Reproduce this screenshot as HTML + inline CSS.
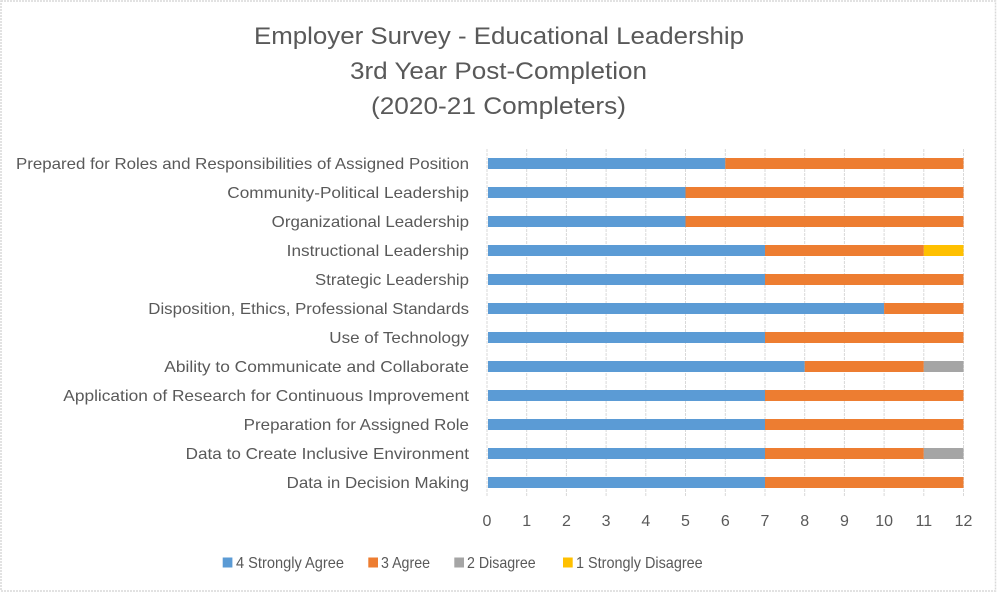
<!DOCTYPE html>
<html><head><meta charset="utf-8"><style>
html,body{margin:0;padding:0;background:#fff;}
svg{display:block;}
text{font-family:"Liberation Sans",Arial,sans-serif;fill:#595959;}
</style></head><body>
<svg width="997" height="593" viewBox="0 0 997 593" xmlns="http://www.w3.org/2000/svg">
<rect x="0" y="0" width="997" height="593" fill="#fff"/>
<rect x="1" y="1" width="994.5" height="590" fill="none" stroke="#d9d9d9" stroke-width="1.5" stroke-dasharray="2,1"/>
<!-- title -->
<text x="254" y="44" font-size="24" textLength="490" lengthAdjust="spacingAndGlyphs">Employer Survey - Educational Leadership</text>
<text x="350" y="79" font-size="24" textLength="297" lengthAdjust="spacingAndGlyphs">3rd Year Post-Completion</text>
<text x="371" y="114" font-size="24" textLength="255" lengthAdjust="spacingAndGlyphs">(2020-21 Completers)</text>
<!-- gridlines -->
<g stroke="#d9d9d9" stroke-width="1" stroke-dasharray="3,1">
<line x1="487" y1="149" x2="487" y2="497"/>
<line x1="526.7" y1="149" x2="526.7" y2="497"/>
<line x1="566.4" y1="149" x2="566.4" y2="497"/>
<line x1="606.1" y1="149" x2="606.1" y2="497"/>
<line x1="645.8" y1="149" x2="645.8" y2="497"/>
<line x1="685.5" y1="149" x2="685.5" y2="497"/>
<line x1="725.3" y1="149" x2="725.3" y2="497"/>
<line x1="765" y1="149" x2="765" y2="497"/>
<line x1="804.7" y1="149" x2="804.7" y2="497"/>
<line x1="844.4" y1="149" x2="844.4" y2="497"/>
<line x1="884.1" y1="149" x2="884.1" y2="497"/>
<line x1="923.8" y1="149" x2="923.8" y2="497"/>
<line x1="963.5" y1="149" x2="963.5" y2="497"/>
</g>
<!-- bars -->
<g>
<rect x="488" y="158" width="237.3" height="11" fill="#5b9bd5"/><rect x="725.3" y="158" width="238.2" height="11" fill="#ed7d31"/>
<rect x="488" y="187" width="197.5" height="11" fill="#5b9bd5"/><rect x="685.5" y="187" width="278" height="11" fill="#ed7d31"/>
<rect x="488" y="216" width="197.5" height="11" fill="#5b9bd5"/><rect x="685.5" y="216" width="278" height="11" fill="#ed7d31"/>
<rect x="488" y="245" width="277" height="11" fill="#5b9bd5"/><rect x="765" y="245" width="158.8" height="11" fill="#ed7d31"/><rect x="923.8" y="245" width="39.7" height="11" fill="#ffc000"/>
<rect x="488" y="274" width="277" height="11" fill="#5b9bd5"/><rect x="765" y="274" width="198.5" height="11" fill="#ed7d31"/>
<rect x="488" y="303" width="396.1" height="11" fill="#5b9bd5"/><rect x="884.1" y="303" width="79.4" height="11" fill="#ed7d31"/>
<rect x="488" y="332" width="277" height="11" fill="#5b9bd5"/><rect x="765" y="332" width="198.5" height="11" fill="#ed7d31"/>
<rect x="488" y="361" width="316.7" height="11" fill="#5b9bd5"/><rect x="804.7" y="361" width="119.1" height="11" fill="#ed7d31"/><rect x="923.8" y="361" width="39.7" height="11" fill="#a5a5a5"/>
<rect x="488" y="390" width="277" height="11" fill="#5b9bd5"/><rect x="765" y="390" width="198.5" height="11" fill="#ed7d31"/>
<rect x="488" y="419" width="277" height="11" fill="#5b9bd5"/><rect x="765" y="419" width="198.5" height="11" fill="#ed7d31"/>
<rect x="488" y="448" width="277" height="11" fill="#5b9bd5"/><rect x="765" y="448" width="158.8" height="11" fill="#ed7d31"/><rect x="923.8" y="448" width="39.7" height="11" fill="#a5a5a5"/>
<rect x="488" y="477" width="277" height="11" fill="#5b9bd5"/><rect x="765" y="477" width="198.5" height="11" fill="#ed7d31"/>
</g>
<!-- category labels -->
<g font-size="16">
<text x="16" y="169" textLength="453" lengthAdjust="spacingAndGlyphs">Prepared for Roles and Responsibilities of Assigned Position</text>
<text x="227.3" y="198" textLength="241.7" lengthAdjust="spacingAndGlyphs">Community-Political Leadership</text>
<text x="271.7" y="227" textLength="197.3" lengthAdjust="spacingAndGlyphs">Organizational Leadership</text>
<text x="286.7" y="256" textLength="182.3" lengthAdjust="spacingAndGlyphs">Instructional Leadership</text>
<text x="315" y="285" textLength="154" lengthAdjust="spacingAndGlyphs">Strategic Leadership</text>
<text x="148.3" y="314" textLength="320.7" lengthAdjust="spacingAndGlyphs">Disposition, Ethics, Professional Standards</text>
<text x="329.3" y="343" textLength="139.7" lengthAdjust="spacingAndGlyphs">Use of Technology</text>
<text x="164.3" y="372" textLength="304.7" lengthAdjust="spacingAndGlyphs">Ability to Communicate and Collaborate</text>
<text x="63.3" y="401" textLength="405.7" lengthAdjust="spacingAndGlyphs">Application of Research for Continuous Improvement</text>
<text x="243.7" y="430" textLength="225.3" lengthAdjust="spacingAndGlyphs">Preparation for Assigned Role</text>
<text x="185.7" y="459" textLength="283.3" lengthAdjust="spacingAndGlyphs">Data to Create Inclusive Environment</text>
<text x="286.7" y="488" textLength="182.3" lengthAdjust="spacingAndGlyphs">Data in Decision Making</text>
</g>
<!-- x tick labels -->
<g font-size="16" text-anchor="middle">
<text x="487" y="526">0</text>
<text x="526.7" y="526">1</text>
<text x="566.4" y="526">2</text>
<text x="606.1" y="526">3</text>
<text x="645.8" y="526">4</text>
<text x="685.5" y="526">5</text>
<text x="725.3" y="526">6</text>
<text x="765" y="526">7</text>
<text x="804.7" y="526">8</text>
<text x="844.4" y="526">9</text>
<text x="884.1" y="526">10</text>
<text x="923.8" y="526">11</text>
<text x="963.5" y="526">12</text>
</g>
<!-- legend -->
<rect x="222.7" y="557.5" width="9.7" height="10" fill="#5b9bd5"/>
<text x="236" y="568" font-size="16" textLength="108" lengthAdjust="spacingAndGlyphs">4 Strongly Agree</text>
<rect x="368.3" y="557.5" width="9.7" height="10" fill="#ed7d31"/>
<text x="381" y="568" font-size="16" textLength="49" lengthAdjust="spacingAndGlyphs">3 Agree</text>
<rect x="454.3" y="557.5" width="9.7" height="10" fill="#a5a5a5"/>
<text x="467" y="568" font-size="16" textLength="68.7" lengthAdjust="spacingAndGlyphs">2 Disagree</text>
<rect x="563" y="557.5" width="9.7" height="10" fill="#ffc000"/>
<text x="576" y="568" font-size="16" textLength="126.7" lengthAdjust="spacingAndGlyphs">1 Strongly Disagree</text>
</svg>
</body></html>
